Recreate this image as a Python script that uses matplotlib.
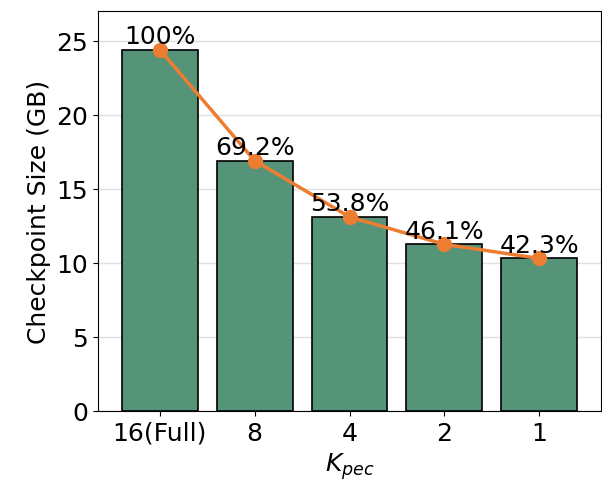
import matplotlib.pyplot as plt
import numpy as np

labels = ['16(Full)', '8', '4', '2', '1']
sizes = [24.4, 16.9, 13.1, 11.25, 10.3]
pcts = ['100%', '69.2%', '53.8%', '46.1%', '42.3%']

fig = plt.figure(figsize=(6.02, 4.89), dpi=100)
ax = fig.add_axes([98/602, 1-412/489, 503/602, 400/489])

x = np.arange(len(labels))
ax.bar(x, sizes, width=0.8, color='#569479', edgecolor='black', linewidth=1.2, zorder=2)
ax.plot(x, sizes, '-o', color='#ED7D31', lw=2.5, ms=10, zorder=3)
for xi, s, p in zip(x, sizes, pcts):
    ax.text(xi, s + 0.1, p, ha='center', va='bottom', fontsize=18)

ax.set_xlim(-0.65, 4.65)
ax.set_ylim(0, 27)
ax.set_yticks([0, 5, 10, 15, 20, 25])
ax.set_xticks(x)
ax.set_xticklabels(labels)
ax.tick_params(labelsize=18)
ax.grid(axis='y', color='#e0e0e0', lw=1, zorder=0)
ax.set_axisbelow(True)
ax.set_ylabel('Checkpoint Size (GB)', fontsize=18)
ax.set_xlabel('$K_{pec}$', fontsize=18)

fig.savefig('out.png', dpi=100)
